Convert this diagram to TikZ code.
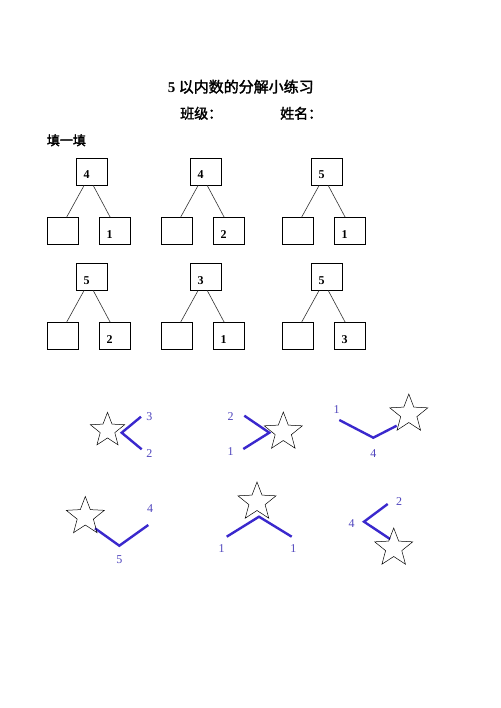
\documentclass[tikz,border=0pt]{standalone}
\usepackage{fontspec}
\setmainfont{Liberation Serif}
\newfontfamily\cjk[AutoFakeBold=2]{Noto Sans CJK SC}
\usepackage{tikz}
\usetikzlibrary{shapes.geometric,positioning}
\usepackage{xcolor}
\definecolor{penblue}{RGB}{58,40,205}
\definecolor{numblue}{RGB}{80,70,190}

\begin{document}
\begin{tikzpicture}[
  x=1pt,y=-1pt,
  box/.style={draw,line width=0.7pt,minimum width=31pt,minimum height=27pt,
              inner xsep=7pt,inner ysep=0pt,text width=17pt,align=left,
              text height=15pt,text depth=0pt,font=\fontsize{12}{12}\selectfont\bfseries},
  stem/.style={draw=black!80,line width=0.6pt},
  starnode/.style={star,star points=5,star point ratio=2.35,draw,line width=0.5pt,
                   minimum size=40pt,inner sep=0pt},
  pen/.style={draw=penblue,line width=2.4pt},
  num/.style={text=numblue,inner sep=0pt,font=\fontsize{12}{12}\selectfont},
  head/.style={inner sep=0pt,font=\cjk\bfseries\fontsize{14}{14}\selectfont},
]
\fill[white] (0,0) rectangle (500,708);
% ----- heading
\node[head,font=\cjk\bfseries\fontsize{15}{15}\selectfont] (title) at (240.8,86.7)
  {{\rmfamily 5} 以内数的分解小练习};
\node[head,anchor=west] (class) at (180,113.3) {班级：};
\node[head,anchor=west] (name) at (280,113.3) {姓名：};
\node[head,anchor=west,font=\cjk\bfseries\fontsize{13}{13}\selectfont] (fill) at (46.7,140.3) {填一填};
% ----- number trees
\foreach \dx/\dy/\t/\r/\n in {0/0/4/1/a, 114/0/4/2/b, 235/0/5/1/c,
                               0/105/5/2/d, 114/105/3/1/e, 235/105/5/3/f} {
  \node[box] (top\n) at (92+\dx,171.5+\dy) {\t};
  \node[box] (left\n) at (62.5+\dx,231+\dy) {};
  \node[box] (right\n) at (115+\dx,231+\dy) {\r};
  \draw[stem] ([xshift=8pt]top\n.south west) -- ([xshift=20pt]left\n.north west);
  \draw[stem] ([xshift=17pt]top\n.south west) -- ([xshift=11pt]right\n.north west);
}
% ----- stars, row 1
\coordinate (a1) at (141,416.7);
\coordinate (v1) at (121.7,432.7);
\coordinate (b1) at (141.7,449.3);
\draw[pen] (a1) -- (v1) -- (b1);
\node[starnode,minimum size=36pt] (star1) at (107.5,430.3) {};
\node[num] (n1a) at (149.3,416.7) {3};
\node[num] (n1b) at (149.3,453.3) {2};

\coordinate (a2) at (244.3,415.7);
\coordinate (v2) at (269.3,432.7);
\coordinate (b2) at (243.3,449);
\draw[pen] (a2) -- (v2) -- (b2);
\node[starnode] (star2) at (283.3,432) {};
\node[num] (n2a) at (230.7,416.7) {2};
\node[num] (n2b) at (230.7,451.7) {1};

\coordinate (a3) at (339.3,420);
\coordinate (v3) at (373.3,437.7);
\coordinate (b3) at (396.7,425.7);
\draw[pen] (a3) -- (v3) -- (b3);
\node[starnode] (star3) at (408.8,414) {};
\node[num] (n3a) at (336.7,410) {1};
\node[num] (n3b) at (373.3,453.3) {4};
% ----- stars, row 2
\coordinate (a4) at (95,528.3);
\coordinate (v4) at (119.3,545.7);
\coordinate (b4) at (148.3,525);
\draw[pen] (a4) -- (v4) -- (b4);
\node[starnode] (star4) at (85.3,516.5) {};
\node[num] (n4a) at (150,508.3) {4};
\node[num] (n4b) at (119.3,560) {5};

\coordinate (a5) at (226.7,536.7);
\coordinate (v5) at (259,516.7);
\coordinate (b5) at (291.7,536.7);
\draw[pen] (a5) -- (v5) -- (b5);
\node[starnode] (star5) at (257,502) {};
\node[num] (n5a) at (221.7,548.3) {1};
\node[num] (n5b) at (293.3,548.3) {1};

\coordinate (a6) at (387.7,504);
\coordinate (v6) at (364,521.7);
\coordinate (b6) at (390,539);
\draw[pen] (a6) -- (v6) -- (b6);
\node[starnode] (star6) at (393.7,548) {};
\node[num] (n6a) at (399,501.7) {2};
\node[num] (n6b) at (351.7,523.3) {4};
\end{tikzpicture}
\end{document}
